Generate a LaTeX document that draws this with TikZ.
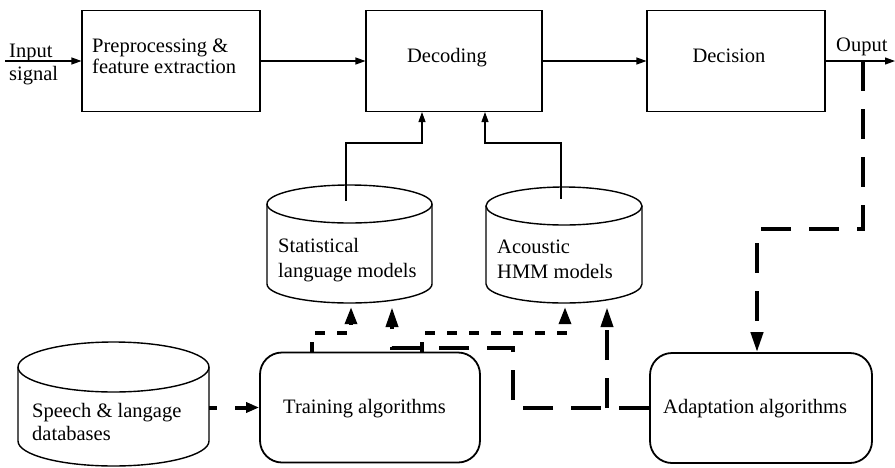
\documentclass[tikz,border=0pt]{standalone}
\usepackage{fontspec}
\setmainfont{Liberation Serif}
\usetikzlibrary{arrows.meta,calc}

% drum-shaped store: name, left, right, top-ellipse centre y, bottom-ellipse centre y, ellipse y radius
\newcommand\drum[6]{%
  \pgfmathsetmacro\drumcx{(#2+#3)/2}%
  \pgfmathsetmacro\drumrx{(#3-#2)/2}%
  \pgfmathsetmacro\drumkx{0.5523*\drumrx}%
  \pgfmathsetmacro\drumky{0.5523*#6}%
  \pgfmathsetmacro\drumtop{#4-#6}%
  \pgfmathsetmacro\drumbot{#5+#6}%
  \pgfmathsetmacro\drumh{\drumbot+4-\drumtop}%
  \pgfmathsetmacro\drummid{(\drumtop+\drumbot+4)/2}%
  \pgfmathsetmacro\drumw{#3-#2}%
  \node[cylarea, minimum width=\drumw pt, minimum height=\drumh pt] (#1) at (\drumcx,\drummid) {};
  \draw[cyledge] (\drumcx,#4) ellipse [x radius=\drumrx pt, y radius=#6 pt];
  \draw[cyledge] (#2,#4) -- (#2,#5)
     .. controls (#2,#5+\drumky) and (\drumcx-\drumkx,\drumbot) .. (\drumcx,\drumbot)
     .. controls (\drumcx+\drumkx,\drumbot) and (#3,#5+\drumky) .. (#3,#5) -- (#3,#4);
}

\begin{document}
\begin{tikzpicture}[x=1pt,y=-1pt,
  lbl/.style={font=\fontsize{20.5}{25}\selectfont, inner sep=0pt, anchor=base west},
  clbl/.style={font=\fontsize{20.5}{25}\selectfont, inner sep=0pt, anchor=base},
  blockbox/.style={draw, line width=1.1pt, inner sep=0pt, minimum height=101pt},
  algbox/.style={draw, line width=1.8pt, rounded corners=22pt, inner sep=0pt,
                 minimum height=110pt},
  cylarea/.style={inner sep=0pt},
  cyledge/.style={line width=1.4pt},
  thinflow/.style={line width=1.1pt, -{Triangle[length=10pt,width=7pt]}},
  dotflow/.style={line width=3.5pt, dash pattern=on 10pt off 12pt,
                  -{Triangle[length=17pt,width=12pt]}},
  dashflow/.style={line width=4pt, dash pattern=on 30pt off 18pt,
                   -{Triangle[length=20pt,width=12pt]}},
]
\useasboundingbox (0,0) rectangle (895,467);
\fill[white] (0,0) rectangle (895,467);

% processing chain
\node[blockbox, minimum width=178pt] (pre) at (171,61) {};
\node[blockbox, minimum width=176pt] (dec) at (454,61) {};
\node[blockbox, minimum width=178pt] (decis) at (736,61) {};

\node[lbl] (pretxt1) at (92,52) {Preprocessing \&};
\node[lbl] (pretxt2) at (92,73) {feature extraction};
\node[clbl] (dectxt) at (447,62) {Decoding};
\node[clbl] (decistxt) at (729,62) {Decision};

\coordinate (inbeg) at (5,61);
\coordinate (outend) at (895,61);
\node[lbl] (intxt1) at (9,57) {Input};
\node[lbl] (intxt2) at (9,80) {signal};
\node[lbl] (outtxt) at (836,51) {Ouput};

\draw[thinflow] (inbeg) -- (pre.west);
\draw[thinflow] (pre.east) -- (dec.west);
\draw[thinflow] (dec.east) -- (decis.west);
\draw[thinflow] (decis.east) -- (outend);

% model stores
\drum{slm}{267}{432}{204}{284}{19}
\drum{ahm}{486}{642}{206}{284}{19}
\drum{sdb}{18}{209}{367}{441}{25}

\node[lbl] (slmtxt1) at (278,252) {Statistical};
\node[lbl] (slmtxt2) at (278,277) {language models};
\node[lbl] (ahmtxt1) at (497,253) {Acoustic};
\node[lbl] (ahmtxt2) at (497,278) {HMM models};
\node[lbl] (sdbtxt1) at (32,417) {Speech \& langage};
\node[lbl] (sdbtxt2) at (32,440) {databases};

\draw[thinflow] ($(slm.north)+(-3.5,16)$) |- (422,143) -- (dec.south -| 422,0);
\draw[thinflow] ($(ahm.north)+(-3,12)$) |- (485,143) -- (dec.south -| 485,0);

% algorithm blocks
\node[algbox, minimum width=220pt] (tr) at (370,407.5) {};
\node[algbox, minimum width=222pt] (ad) at (761,408) {};
\node[lbl] (trtxt) at (283,413) {Training algorithms};
\node[lbl] (adtxt) at (663,413) {Adaptation algorithms};

% training outputs
\draw[dotflow] (tr.north -| 312,0) -- (312,333) -| (slm.south -| 351,0);
\draw[dotflow] (tr.north -| 422,0) -- (422,333) -| (ahm.south -| 565,0);

% adaptation outputs
\coordinate (adbranch) at (607,408);
\draw[dashflow] (ad.west) -- (513,408) -- (513,348) -| (slm.south -| 392,0);
\draw[dashflow] (adbranch) -- (ahm.south -| 607,0);

% feedback from the output
\coordinate (outtap) at (863,61);
\draw[dashflow] (outtap) -- (863,229) -| (ad.north -| 757,0);

% speech data into training
\draw[line width=4pt, dash pattern=on 30pt off 18pt, dash phase=22pt,
      -{Triangle[length=13pt,width=10pt]}] (sdb.east |- tr.west) -- (tr.west);
\end{tikzpicture}
\end{document}
